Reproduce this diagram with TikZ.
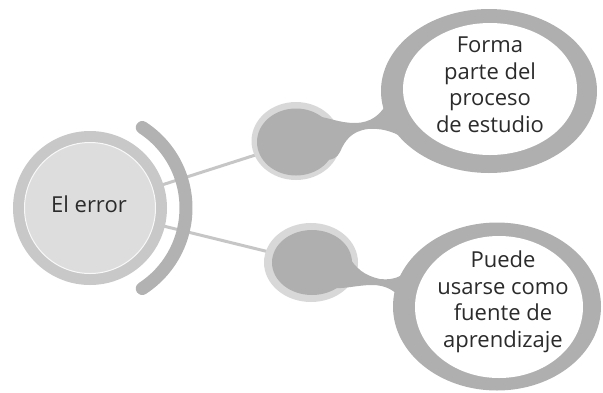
\documentclass[tikz,border=0pt]{standalone}
\usepackage{fontspec}
\setmainfont{Open Sans}
\usetikzlibrary{shapes.geometric,backgrounds}
\definecolor{ringgray}{HTML}{C8C8C8}
\definecolor{coregray}{HTML}{DDDDDD}
\definecolor{arcgray}{HTML}{B2B2B2}
\definecolor{blobgray}{HTML}{AFAFAF}
\definecolor{halogray}{HTML}{D8D8D8}
\definecolor{linkgray}{HTML}{C6C6C6}
\definecolor{textgray}{HTML}{2B2B2B}
\tikzset{
  mainring/.style={circle,fill=ringgray,inner sep=0,minimum size=154pt},
  maincore/.style={circle,fill=coregray,draw=white!80!coregray,line width=1pt,inner sep=0,minimum size=131pt},
  halo/.style={ellipse,fill=halogray,inner sep=0},
  blob/.style={ellipse,fill=blobgray,inner sep=0},
  bubble/.style={ellipse,fill=blobgray,inner sep=0},
  hole/.style={ellipse,fill=white,inner sep=0},
  link/.style={draw=linkgray,line width=3pt},
  txt/.style={text=textgray,align=center,inner sep=0,font=\fontsize{22}{26.5}\selectfont}
}
\begin{document}
\begin{tikzpicture}[x=1pt,y=-1pt]
        \useasboundingbox (0,0) rectangle (603,392);
        \node[mainring] (ring) at (90,208) {};
        \node[maincore] (err) at (90,208) {};
        \node[txt,anchor=base] (errtext) at (89,212) {El error};
        \draw[arcgray,line width=13pt,line cap=round] (ring.center) ++(-57:96) arc[start angle=-57,end angle=57,radius=96];
        \node[halo,minimum width=89pt,minimum height=78pt] (h1) at (296,141) {};
        \fill[blobgray] (316,116) .. controls (330,118) and (340,123) .. (355,123)
            .. controls (370,123) and (382,115) .. (388,100) -- (402,137)
            .. controls (392,131) and (380,128) .. (368,129)
            .. controls (352,131) and (345,140) .. (340,152)
            .. controls (337,158) and (332,160) .. (326,160) -- cycle;
        \node[blob,minimum width=78pt,minimum height=67pt] (b1) at (296,142) {};
        \node[bubble,minimum width=216pt,minimum height=164pt] (f1) at (489,91) {};
        \node[hole,minimum width=174pt,minimum height=132pt] (t1) at (490,89) {};
        \node[txt] (t1text) at (490,84.7) {Forma\\parte del\\proceso\\de estudio};
        \node[halo,minimum width=94pt,minimum height=79pt] (h2) at (311,262.5) {};
        \fill[blobgray] (348,255) .. controls (355,268) and (365,276) .. (380,279)
            .. controls (395,281) and (408,275) .. (418,258) -- (402,300)
            .. controls (395,290) and (385,285) .. (372,285)
            .. controls (358,285) and (345,289) .. (333,288) -- cycle;
        \node[blob,minimum width=80pt,minimum height=65pt] (b2) at (312,262.5) {};
        \node[bubble,minimum width=208pt,minimum height=168pt] (f2) at (497,306.5) {};
        \node[hole,minimum width=168pt,minimum height=142pt] (t2) at (499,307) {};
        \node[txt] (t2text) at (503,301.8) {Puede\\usarse como\\fuente de\\aprendizaje};
        \begin{pgfonlayer}{background}
        \draw[link] (err.center) -- (b1.center);
        \draw[link] (err.center) -- (b2.center);
        \end{pgfonlayer}
    \end{tikzpicture}
\end{document}
